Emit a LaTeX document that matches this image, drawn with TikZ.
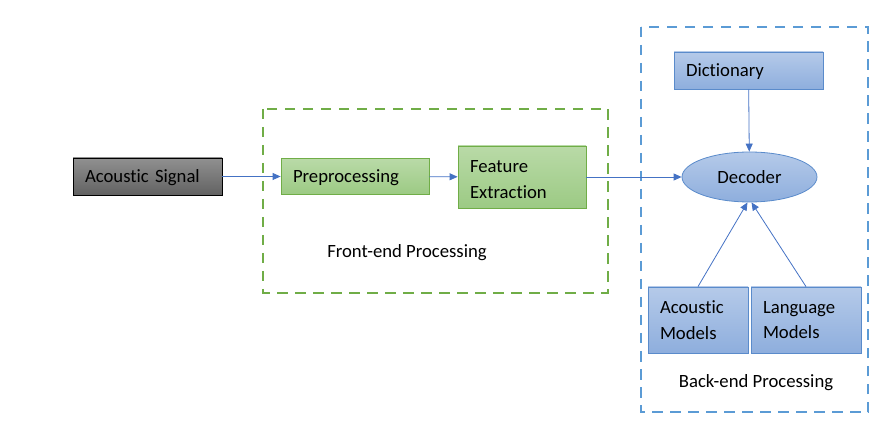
\documentclass[tikz,border=0pt]{standalone}
\usepackage{fontspec}
\setmainfont{Carlito}[Ligatures = {NoCommon, NoContextual}]
\usetikzlibrary{arrows.meta, shapes.geometric}

\definecolor{signaltop}{HTML}{909090}
\definecolor{signalbottom}{HTML}{626262}
\definecolor{greentop}{HTML}{B9DAA7}
\definecolor{greenbottom}{HTML}{9CCA84}
\definecolor{greenline}{HTML}{70AD47}
\definecolor{bluetop}{HTML}{B5CAE9}
\definecolor{bluebottom}{HTML}{8EAEDD}
\definecolor{blueline}{HTML}{5A8BCB}
\definecolor{framegreen}{HTML}{70AD47}
\definecolor{frameblue}{HTML}{5B9BD5}
\definecolor{arrowblue}{HTML}{4472C4}

\begin{document}
\begin{tikzpicture}[yscale = -1, x = 1pt, y = 1pt,
	font = \fontsize{18.7}{25.8}\selectfont,
	box/.style = {draw, line width = 0.8pt, inner xsep = 12pt, inner ysep = 0pt, align = left},
	oneline/.style = {text depth = 0pt},
	signalbox/.style = {box, draw = black, top color = signaltop, bottom color = signalbottom},
	greenbox/.style = {box, draw = greenline, top color = greentop, bottom color = greenbottom},
	bluebox/.style = {box, draw = blueline, top color = bluetop, bottom color = bluebottom},
	frame/.style = {line width = 2.5pt, dash pattern = on 10.5pt off 7.5pt},
	conn/.style = {draw = arrowblue, line width = 0.8pt, -{Triangle[length = 8pt, width = 7pt]}}]
	\useasboundingbox (0, 0) rectangle (891, 427);

	% Rahmen:
	\draw [frame, framegreen] (263, 109) rectangle (608, 293);
	\draw [frame, frameblue] (641, 27) rectangle (868, 412);

	% Vorverarbeitung:
	\node [signalbox, oneline, text width = 125pt, minimum height = 37pt] (signal) at (147.5, 176.5) {Acoustic Signal};
	\node [greenbox, oneline, text width = 124pt, minimum height = 36pt] (preproc) at (355, 176.5) {Preprocessing};
	\node [greenbox, text width = 104pt, text depth = 20pt, minimum height = 62pt] (feature) at (522, 177) {Feature\\Extraction};

	% Dekodierung:
	\node [ellipse, oneline, draw = blueline, line width = 0.8pt, top color = bluetop, bottom color = bluebottom,
		minimum width = 135pt, minimum height = 50pt, inner sep = 0pt] (decoder) at (749.5, 177) {Decoder\hspace{8pt}};
	\node [bluebox, oneline, text width = 125pt, minimum height = 37pt] (dictionary) at (748.5, 70.5) {Dictionary};
	\node [bluebox, text width = 76pt, minimum height = 66pt] (acmodels) at (698, 320) {Acoustic\\Models};
	\node [bluebox, text width = 86pt, minimum height = 66pt] (lmmodels) at (806, 320) {Language\\Models};

	% Beschriftungen:
	\node (frontlabel) at (407, 253) {Front-end Processing};
	\node (backlabel) at (756, 383) {Back-end Processing};

	% Verbindungen:
	\draw [conn] (signal) -- (preproc);
	\draw [conn] (preproc) -- (feature);
	\draw [conn] (feature) -- (decoder);
	\draw [conn] (dictionary) -- (decoder);
	\draw [conn] (acmodels.north) -- ([xshift = -2pt]decoder.south);
	\draw [conn] (lmmodels.north) -- ([xshift = 2pt]decoder.south);
\end{tikzpicture}
\end{document}
